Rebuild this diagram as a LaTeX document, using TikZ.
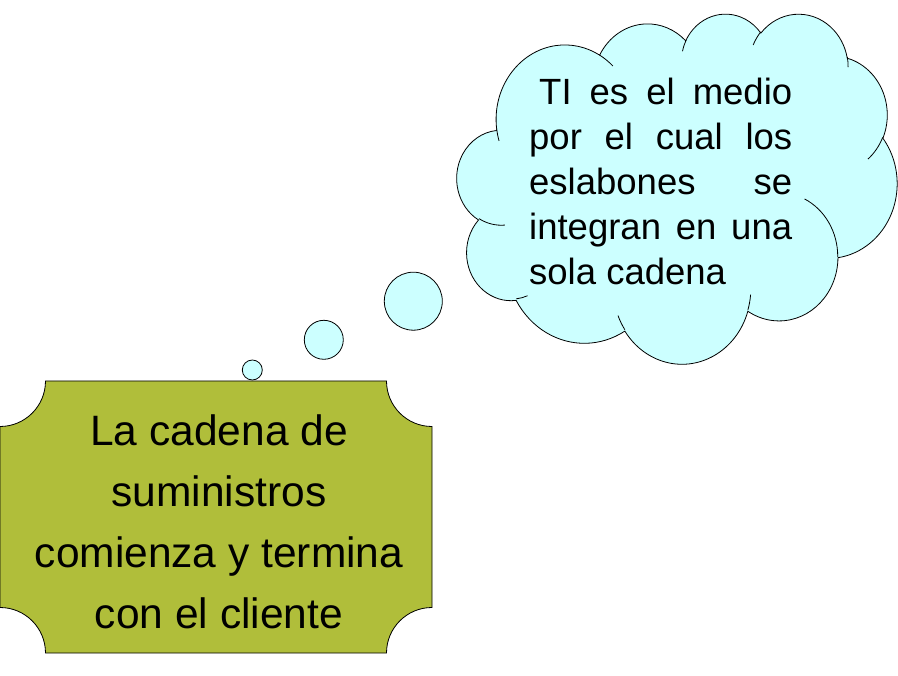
\documentclass[tikz,border=0pt]{standalone}
\usepackage{fontspec}
\setmainfont{Liberation Sans}
\definecolor{plaquefill}{RGB}{176,190,58}
\definecolor{cloudfill}{RGB}{204,255,255}
\newcommand\cldprep[5]{%
  \pgfmathsetmacro\cldtmpa{#4}%
  \pgfmathsetmacro\cldtmpb{#4+#5}%
  \pgfmathsetmacro\cldtmps{\cldtmpa+atan2(#2*sin(\cldtmpa),#3*cos(\cldtmpa))-atan2(sin(\cldtmpa),cos(\cldtmpa))}%
  \pgfmathsetmacro\cldtmpe{\cldtmpb+atan2(#2*sin(\cldtmpb),#3*cos(\cldtmpb))-atan2(sin(\cldtmpb),cos(\cldtmpb))}%
  \global\expandafter\let\csname cld#1s\endcsname\cldtmps
  \global\expandafter\let\csname cld#1e\endcsname\cldtmpe
}
\tikzset{
  outline/.style={draw=black, line width=0.8pt},
  bubble/.style={outline, fill=cloudfill, circle, inner sep=0pt},
}
\begin{document}
\begin{tikzpicture}[x=1pt,y=-1pt]
\useasboundingbox (0,0) rectangle (898,676);
% cloud arc parameters (OOXML cloud geometry)
\cldprep{A}{6.753}{9.190}{-190.4874833}{123.7805333}
\cldprep{B}{5.333}{7.267}{-144.1023833}{89.9452333}
\cldprep{C}{4.365}{5.945}{-145.8079167}{99.7230167}
\cldprep{D}{4.857}{6.595}{-130.9860667}{117.2417333}
\cldprep{E}{5.333}{7.273}{-78.7088833}{109.0269167}
\cldprep{F}{6.775}{9.220}{-46.26725}{130.269}
\cldprep{G}{5.785}{7.867}{0.6250167}{114.0333333}
\cldprep{H}{6.752}{9.215}{22.4516}{115.17255}
\cldprep{I}{7.720}{10.543}{66.2426333}{75.7110167}
\cldprep{J}{4.360}{5.918}{-274.9420833}{146.7355667}
\cldprep{K}{4.345}{5.945}{-246.8285}{152.51885}
\cldprep{a}{4.345}{5.945}{86.742}{26.4295}
\cldprep{b}{4.360}{5.918}{73.61047}{11.44747}
\cldprep{c}{6.752}{9.215}{137.62415}{14.0811}
\cldprep{d}{6.752}{9.215}{6.45327}{15.99835}
\cldprep{e}{5.785}{7.867}{-70.29235}{70.91737}
\cldprep{f}{5.333}{7.273}{30.31803}{27.7515}
\cldprep{g}{4.857}{6.595}{-13.74433}{14.8589}
\cldprep{h}{4.857}{6.595}{-149.18145}{18.19537}
\cldprep{i}{4.365}{5.945}{-163.49427}{17.68635}
\cldprep{j}{6.753}{9.190}{-66.70695}{12.31935}
\cldprep{k}{6.753}{9.190}{157.65435}{11.85817}
\begin{scope}[shift={(457pt,-13pt)}, x=10.185pt, y=-8.102pt]
  \path[outline, fill=cloudfill] (3.900,14.370)
    arc[start angle=\cldAs, end angle=\cldAe, x radius=6.753, y radius=9.190]
    arc[start angle=\cldBs, end angle=\cldBe, x radius=5.333, y radius=7.267]
    arc[start angle=\cldCs, end angle=\cldCe, x radius=4.365, y radius=5.945]
    arc[start angle=\cldDs, end angle=\cldDe, x radius=4.857, y radius=6.595]
    arc[start angle=\cldEs, end angle=\cldEe, x radius=5.333, y radius=7.273]
    arc[start angle=\cldFs, end angle=\cldFe, x radius=6.775, y radius=9.220]
    arc[start angle=\cldGs, end angle=\cldGe, x radius=5.785, y radius=7.867]
    arc[start angle=\cldHs, end angle=\cldHe, x radius=6.752, y radius=9.215]
    arc[start angle=\cldIs, end angle=\cldIe, x radius=7.720, y radius=10.543]
    arc[start angle=\cldJs, end angle=\cldJe, x radius=4.360, y radius=5.918]
    arc[start angle=\cldKs, end angle=\cldKe, x radius=4.345, y radius=5.945]
    -- cycle;
  \path[outline]
    (4.693,26.177) arc[start angle=\cldas, end angle=\cldae, x radius=4.345, y radius=5.945]
    (6.928,34.899) arc[start angle=\cldbs, end angle=\cldbe, x radius=4.360, y radius=5.918]
    (16.478,39.090) arc[start angle=\cldcs, end angle=\cldce, x radius=6.752, y radius=9.215]
    (28.827,34.751) arc[start angle=\cldds, end angle=\cldde, x radius=6.752, y radius=9.215]
    (34.129,22.954) arc[start angle=\cldes, end angle=\cldee, x radius=5.785, y radius=7.867]
    (41.798,15.354) arc[start angle=\cldfs, end angle=\cldfe, x radius=5.333, y radius=7.273]
    (38.324,5.426) arc[start angle=\cldgs, end angle=\cldge, x radius=4.857, y radius=6.595]
    (29.078,3.952) arc[start angle=\cldhs, end angle=\cldhe, x radius=4.857, y radius=6.595]
    (22.141,4.720) arc[start angle=\cldis, end angle=\cldie, x radius=4.365, y radius=5.945]
    (14.000,5.192) arc[start angle=\cldjs, end angle=\cldje, x radius=6.753, y radius=9.190]
    (4.127,15.789) arc[start angle=\cldks, end angle=\cldke, x radius=6.753, y radius=9.190];
\end{scope}
% thought bubbles
\node[bubble, minimum size=20pt] (b1) at (252.3,370) {};
\node[bubble, minimum size=39pt] (b2) at (323.8,339.8) {};
\node[bubble, minimum size=58pt] (b3) at (413.3,301.2) {};
% cloud text (anchor base = baseline of last line)
\node[anchor=base west, inner sep=0pt, align=left, font=\fontsize{36.5}{45}\selectfont] (cloudtext) at (529,285)
  {\hspace*{10pt}\makebox[253pt][s]{TI es el medio}\\
   \makebox[263pt][s]{por el cual los}\\
   \makebox[263pt][s]{eslabones se}\\
   \makebox[263pt][s]{integran en una}\\
   sola cadena};
% plaque
\path[outline, fill=plaquefill] (45.5,381) -- (386.5,381)
  arc[start angle=180, end angle=90, radius=45.5] -- (432,607.5)
  arc[start angle=270, end angle=180, radius=45.5] -- (45.5,653)
  arc[start angle=0, end angle=-90, radius=45.5] -- (0,426.5)
  arc[start angle=90, end angle=0, radius=45.5] -- cycle;
\node[anchor=base, inner sep=0pt, align=center, font=\fontsize{42.5}{60.8}\selectfont] (plaquetext) at (219,628.3)
  {La cadena de\\suministros\\comienza y termina\\con el cliente};
\end{tikzpicture}
\end{document}
